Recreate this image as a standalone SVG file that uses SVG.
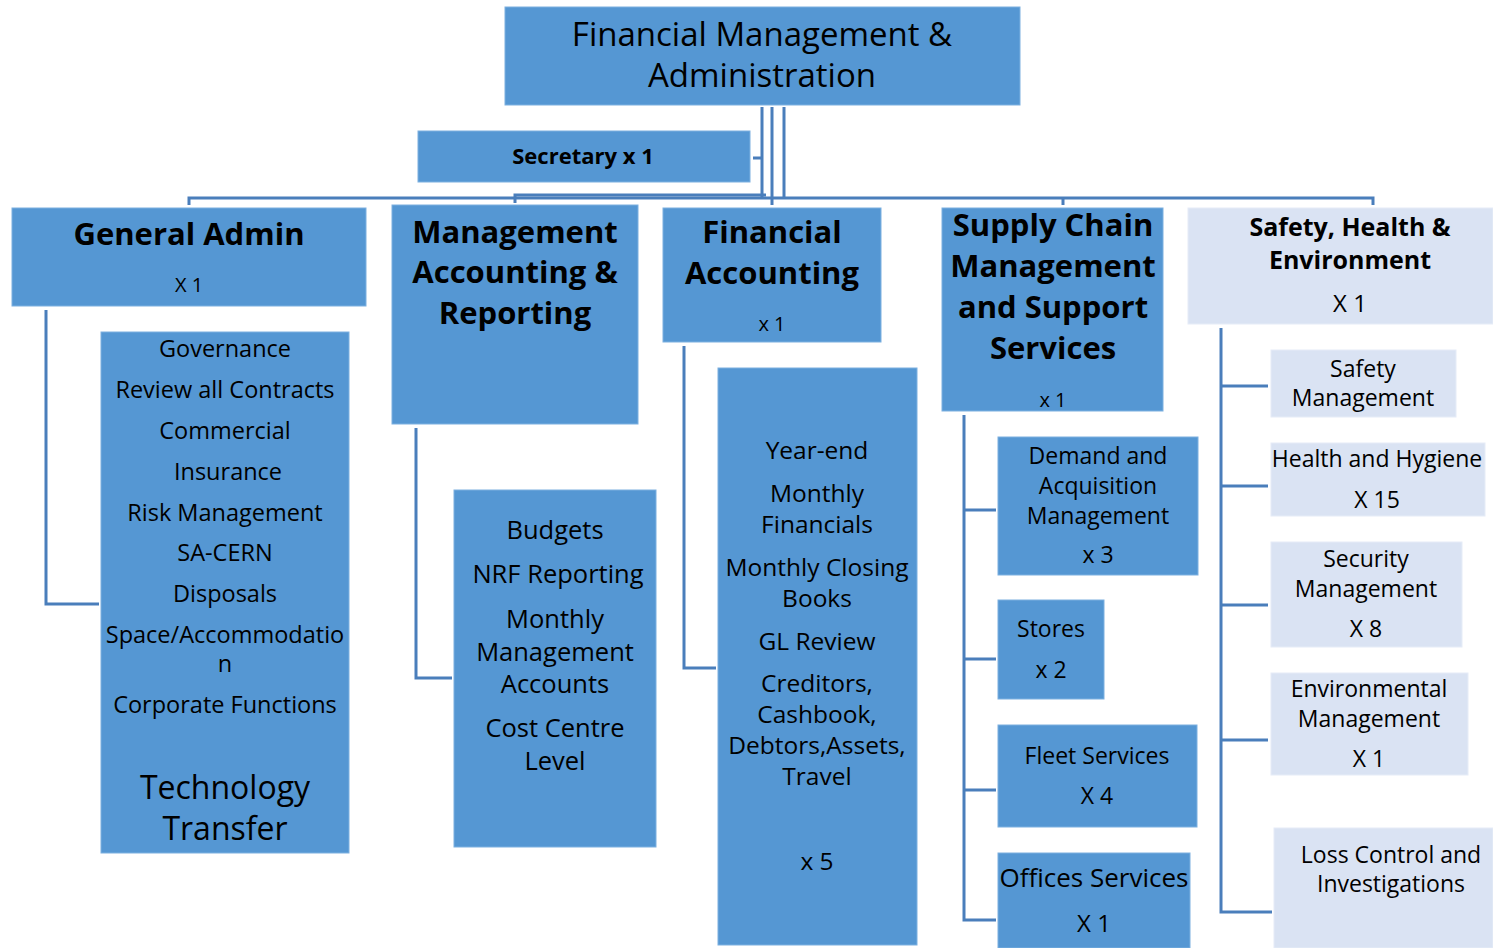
<svg xmlns="http://www.w3.org/2000/svg" width="1493" height="948" viewBox="0 0 1493 948">
<style>
.b{fill:#5597D3;stroke:#7DB0E0;stroke-width:1}
.l{fill:#DAE3F3;stroke:#E6ECF7;stroke-width:1}
text{font-family:"Open Sans","Noto Sans",sans-serif;fill:#000;text-anchor:middle}
.h{font-weight:bold;font-size:31px}
.t{font-size:23px}
.g{font-size:23.5px}
.m{font-size:24.5px}
.k{font-size:25.5px}
.c{fill:none;stroke:#4A7EBB;stroke-width:3}
</style>
<rect width="1493" height="948" fill="#fff"/>
<g id="connectors">
<path class="c" d="M762 107V198M772 107V205M784 107V198M753 158H762"/>
<path class="c" d="M515 203V195H766"/>
<path class="c" d="M189 205V198H1373V205M1063 198V205"/>
<path class="c" d="M46 310V604H99"/>
<path class="c" d="M416 428V678H452"/>
<path class="c" d="M684 346V668H716"/>
<path class="c" d="M964 415V920H996M964 510H996M964 659H996M964 790H996"/>
<path class="c" d="M1221 328V912H1272M1221 386H1268M1221 486H1268M1221 605H1268M1221 740H1268"/>
</g>
<g id="top"><rect class="b" x="505" y="7" width="515" height="98"/>
<text x="762" y="46" font-size="33">Financial Management &amp;</text>
<text x="762" y="87" font-size="33">Administration</text></g>
<g id="secretary"><rect class="b" x="418" y="131" width="332" height="51"/>
<text x="583" y="164" font-size="22" font-weight="bold">Secretary x 1</text></g>
<g id="general-admin"><rect class="b" x="12" y="208" width="354" height="98"/>
<text class="h" x="189" y="245">General Admin</text>
<text x="189" y="292" font-size="20">X 1</text></g>
<g id="mgmt-accounting"><rect class="b" x="392" y="205" width="246" height="219"/>
<text class="h" x="515" y="243">Management</text>
<text class="h" x="515" y="283">Accounting &amp;</text>
<text class="h" x="515" y="324">Reporting</text></g>
<g id="fin-accounting"><rect class="b" x="663" y="208" width="218" height="134"/>
<text class="h" x="772" y="243">Financial</text>
<text class="h" x="772" y="284">Accounting</text>
<text x="772" y="331" font-size="20">x 1</text></g>
<g id="supply-chain"><rect class="b" x="942" y="208" width="221" height="203"/>
<text class="h" x="1053" y="236">Supply Chain</text>
<text class="h" x="1053" y="277">Management</text>
<text class="h" x="1053" y="318">and Support</text>
<text class="h" x="1053" y="359">Services</text>
<text x="1053" y="407" font-size="20">x 1</text></g>
<g id="she"><rect class="l" x="1188" y="208" width="305" height="116"/>
<text x="1350" y="236" font-size="25" font-weight="bold">Safety, Health &amp;</text>
<text x="1350" y="269" font-size="25" font-weight="bold">Environment</text>
<text x="1350" y="312" font-size="24">X 1</text></g>
<g id="ga-functions"><rect class="b" x="101" y="332" width="248" height="521"/>
<text class="g" x="225" y="357">Governance</text>
<text class="g" x="225" y="398">Review all Contracts</text>
<text class="g" x="225" y="439">Commercial</text>
<text class="g" x="228" y="480">Insurance</text>
<text class="g" x="225" y="521">Risk Management</text>
<text class="g" x="225" y="561">SA-CERN</text>
<text class="g" x="225" y="602">Disposals</text>
<text class="g" x="225" y="643">Space/Accommodatio</text>
<text class="g" x="225" y="672">n</text>
<text class="g" x="225" y="713">Corporate Functions</text>
<text x="225" y="799" font-size="32">Technology</text>
<text x="225" y="840" font-size="32">Transfer</text></g>
<g id="ma-functions"><rect class="b" x="454" y="490" width="202" height="357"/>
<text class="k" x="555" y="539">Budgets</text>
<text class="k" x="558" y="583">NRF Reporting</text>
<text class="k" x="555" y="628">Monthly</text>
<text class="k" x="555" y="661">Management</text>
<text class="k" x="555" y="693">Accounts</text>
<text class="k" x="555" y="737">Cost Centre</text>
<text class="k" x="555" y="770">Level</text></g>
<g id="fa-functions"><rect class="b" x="718" y="368" width="199" height="577"/>
<text class="m" x="817" y="459">Year-end</text>
<text class="m" x="817" y="502">Monthly</text>
<text class="m" x="817" y="533">Financials</text>
<text class="m" x="817" y="576">Monthly Closing</text>
<text class="m" x="817" y="607">Books</text>
<text class="m" x="817" y="650">GL Review</text>
<text class="m" x="817" y="692">Creditors,</text>
<text class="m" x="817" y="723">Cashbook,</text>
<text class="m" x="817" y="754">Debtors,Assets,</text>
<text class="m" x="817" y="785">Travel</text>
<text class="m" x="817" y="870">x 5</text></g>
<g id="demand"><rect class="b" x="998" y="437" width="200" height="138"/>
<text class="t" x="1098" y="464">Demand and</text>
<text class="t" x="1098" y="494">Acquisition</text>
<text class="t" x="1098" y="524">Management</text>
<text class="t" x="1098" y="563">x 3</text></g>
<g id="stores"><rect class="b" x="998" y="600" width="106" height="99"/>
<text class="t" x="1051" y="637">Stores</text>
<text class="t" x="1051" y="678">x 2</text></g>
<g id="fleet"><rect class="b" x="998" y="725" width="199" height="102"/>
<text class="t" x="1097" y="764">Fleet Services</text>
<text class="t" x="1097" y="804">X 4</text></g>
<g id="offices"><rect class="b" x="998" y="853" width="192" height="95"/>
<text x="1094" y="887" font-size="26">Offices Services</text>
<text x="1094" y="932" font-size="24">X 1</text></g>
<g id="safety-mgmt"><rect class="l" x="1271" y="350" width="185" height="67"/>
<text class="t" x="1363" y="377">Safety</text>
<text class="t" x="1363" y="406">Management</text></g>
<g id="health"><rect class="l" x="1271" y="443" width="214" height="73"/>
<text class="t" x="1377" y="467">Health and Hygiene</text>
<text class="t" x="1377" y="508">X 15</text></g>
<g id="security"><rect class="l" x="1271" y="542" width="191" height="105"/>
<text class="t" x="1366" y="567">Security</text>
<text class="t" x="1366" y="597">Management</text>
<text class="t" x="1366" y="637">X 8</text></g>
<g id="environmental"><rect class="l" x="1271" y="673" width="197" height="102"/>
<text class="t" x="1369" y="697">Environmental</text>
<text class="t" x="1369" y="727">Management</text>
<text class="t" x="1369" y="767">X 1</text></g>
<g id="loss-control"><rect class="l" x="1274" y="828" width="219" height="120"/>
<text class="t" x="1391" y="863">Loss Control and</text>
<text class="t" x="1391" y="892">Investigations</text></g>
</svg>
